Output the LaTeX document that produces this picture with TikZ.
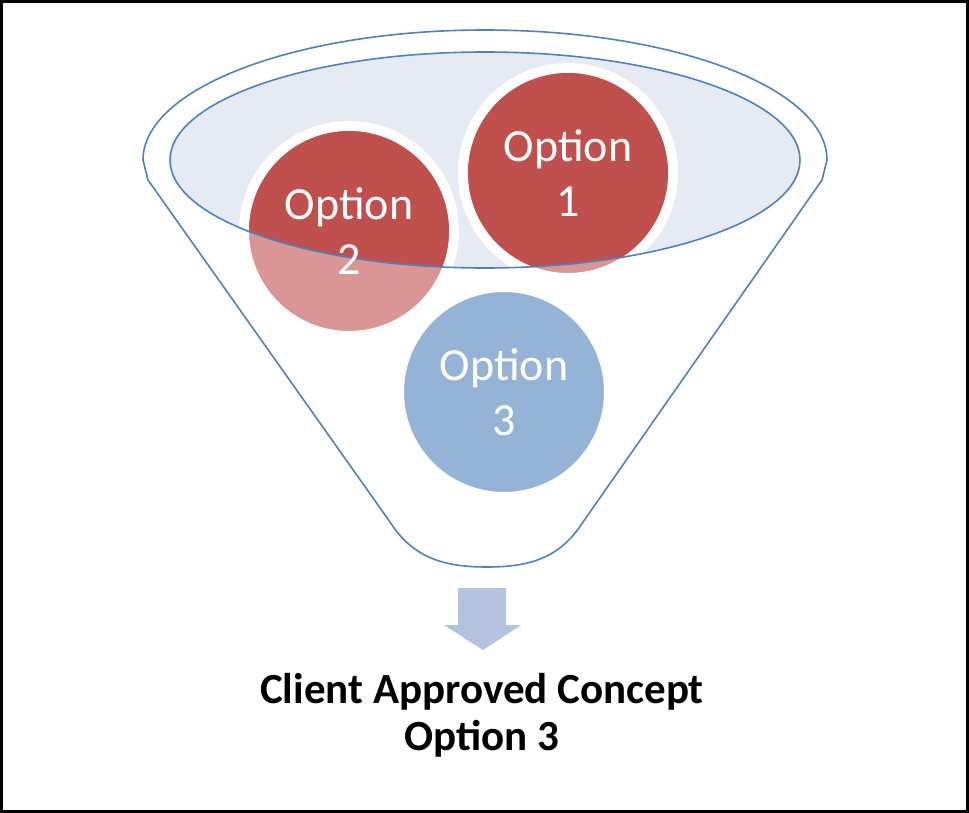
\documentclass[tikz,border=0pt]{standalone}
\usepackage{fontspec}
\setmainfont{Carlito}
\usetikzlibrary{positioning}
\definecolor{fnline}{HTML}{4F81BD}
\definecolor{fnfill}{HTML}{E5EAF3}
\definecolor{optred}{HTML}{C0504D}
\definecolor{optpink}{HTML}{D99694}
\definecolor{optblue}{HTML}{95B3D7}
\definecolor{arwblue}{HTML}{B3C2DE}

\begin{document}
\begin{tikzpicture}[x=1pt,y=1pt,
opt/.style={circle,draw=white,line width=10pt,minimum size=210pt,inner sep=0pt},
lbl/.style={text=white,align=center,font=\fontsize{46}{55}\selectfont},
res/.style={align=center,font=\bfseries\fontsize{43}{47}\selectfont}]
\useasboundingbox (0,0) rectangle (969,-813);
\draw[line width=3pt] (1.5,-1.5) rectangle (967.5,-811);
\draw[fnline,line width=1.6pt]
(143,-160) arc[start angle=180,end angle=0,x radius=342,y radius=130]
-- (822,-180) -- (583,-522)
.. controls (560,-558) and (530,-567) .. (487,-567)
.. controls (444,-567) and (413,-558) .. (390,-522)
-- (148,-180) -- cycle;
\fill[fnfill] (485,-160) ellipse[x radius=315,y radius=108];
\node[opt,fill=optpink] (o1) at (568,-173) {};
\node[opt,fill=optpink] (o2) at (349,-231) {};
\node[opt,fill=optblue] (o3) at (504,-392) {};
\begin{scope}
\clip (485,-160) ellipse[x radius=315,y radius=108];
\fill[optred] (o1) circle[radius=100];
\fill[optred] (o2) circle[radius=100];
\end{scope}
\draw[fnline,line width=1.6pt] (485,-160) ellipse[x radius=315,y radius=108];
\node[lbl] (t1) at (o1) {Option\\1};
\node[lbl] (t2) at (o2) {Option\\2};
\node[lbl] (t3) at (o3) {Option\\3};
\fill[arwblue] (458,-588) -- (506,-588) -- (506,-625) -- (521,-625)
-- (483,-650) -- (444,-625) -- (458,-625) -- cycle;
\node[res] (win) at (482,-715) {Client Approved Concept\\Option 3};
\end{tikzpicture}
\end{document}
